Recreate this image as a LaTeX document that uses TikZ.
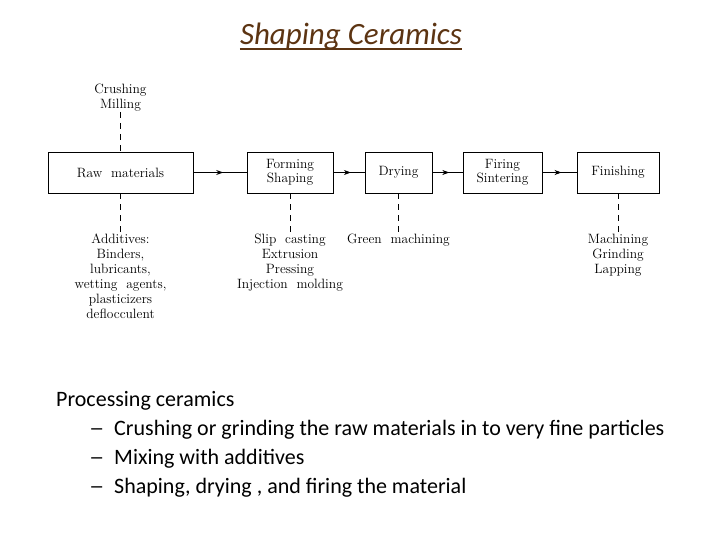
\documentclass[tikz,border=0pt]{standalone}
\usepackage{fontspec}
\newfontfamily\slidefont{Carlito}
\usetikzlibrary{arrows.meta,decorations.markings,calc}
\definecolor{titlebrown}{RGB}{92,52,18}
\tikzset{
  procbox/.style={draw, line width=0.8pt, minimum height=41pt, inner sep=0pt,
    align=center, font=\fontsize{13.5}{14.5}\selectfont},
  lbl/.style={align=center, inner sep=1pt, font=\fontsize{13.5}{15}\selectfont},
  dashline/.style={line width=0.8pt, dash pattern=on 6pt off 5pt},
  flow/.style={line width=0.8pt, postaction={decorate},
    decoration={markings, mark=at position 0.56 with {\arrow{Stealth[length=7pt,width=5pt]}}}},
  bodytext/.style={anchor=base west, inner sep=0pt, font=\slidefont\fontsize{22}{26}\selectfont},
}
\begin{document}
\begin{tikzpicture}[x=1pt,y=-1pt]
\useasboundingbox (0,0) rectangle (720,540);
% title
\node[anchor=base, inner sep=0pt, text=titlebrown, font=\slidefont\itshape\fontsize{31}{34}\selectfont] (title) at (351,45) {Shaping Ceramics};
\draw[titlebrown, line width=2pt] ($(title.base west)+(0,4)$) -- ($(title.base east)+(0,4)$);
% boxes
\node[procbox, minimum width=145pt] (raw) at (120.5,172.5) {Raw\ \ materials};
\node[procbox, minimum width=86pt] (form) at (290,172.5) {Forming\\Shaping};
\node[procbox, minimum width=67pt] (dry) at (398.5,172.5) {Drying};
\node[procbox, minimum width=79pt] (fire) at (502.5,172.5) {Firing\\Sintering};
\node[procbox, minimum width=82pt] (fin) at (618,172.5) {Finishing};
% arrows
\draw[flow] (raw.east) -- (form.west);
\draw[flow] (form.east) -- (dry.west);
\draw[flow] (dry.east) -- (fire.west);
\draw[flow] (fire.east) -- (fin.west);
% labels
\node[lbl, anchor=south] (crush) at (120.5,112) {Crushing\\Milling};
\node[lbl, anchor=north] (add) at (120.5,233) {Additives:\\Binders,\\lubricants,\\wetting\ \ agents,\\plasticizers\\deflocculent};
\node[lbl, anchor=north] (slip) at (290,233) {Slip\ \ casting\\Extrusion\\Pressing\\Injection\ \ molding};
\node[lbl, anchor=north] (green) at (398.5,233) {Green\ \ machining};
\node[lbl, anchor=north] (mach) at (618,233) {Machining\\Grinding\\Lapping};
% dashed connectors
\draw[dashline] (crush.south) -- (raw.north);
\draw[dashline] (raw.south) -- (add.north);
\draw[dashline] (form.south) -- (slip.north);
\draw[dashline] (dry.south) -- (green.north);
\draw[dashline] (fin.south) -- (mach.north);
% body text
\node[bodytext] (p0) at (56,406) {Processing ceramics};
\node[bodytext] (d1) at (89,435) {\scalebox{1.4}[1]{–}};
\node[bodytext] (t1) at (114,435) {Crushing or grinding the raw materials in to very fine particles};
\node[bodytext] (d2) at (89,464) {\scalebox{1.4}[1]{–}};
\node[bodytext] (t2) at (114,464) {Mixing with additives};
\node[bodytext] (d3) at (89,493) {\scalebox{1.4}[1]{–}};
\node[bodytext] (t3) at (114,493) {Shaping, drying , and firing the material};
\end{tikzpicture}
\end{document}
